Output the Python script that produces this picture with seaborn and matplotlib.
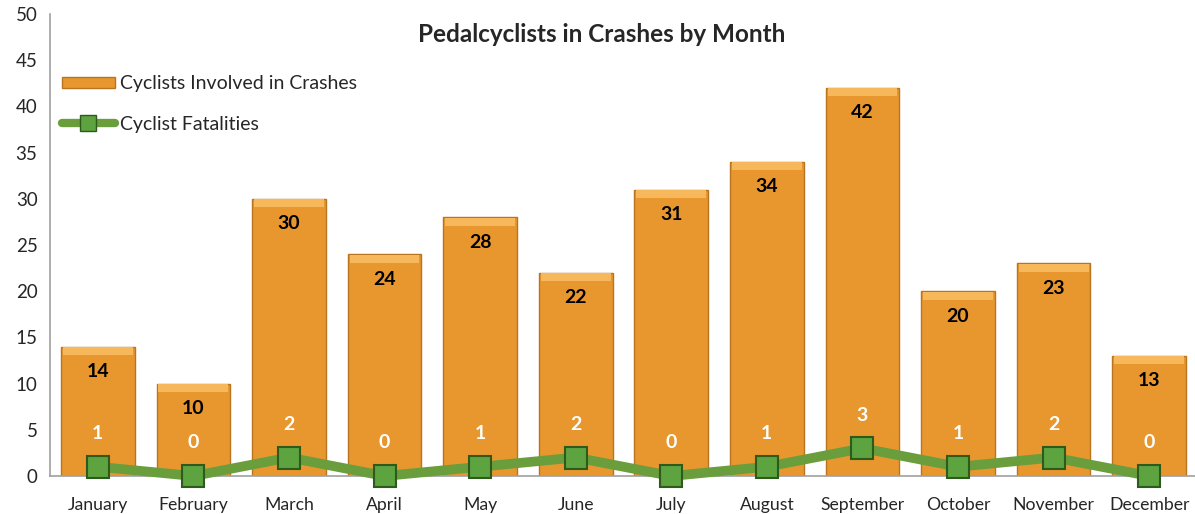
import matplotlib
matplotlib.use("Agg")
import matplotlib.pyplot as plt
import seaborn as sns
import numpy as np
import pandas as pd
from matplotlib.lines import Line2D
from matplotlib.patches import Patch

months = ["January", "February", "March", "April", "May", "June", "July",
          "August", "September", "October", "November", "December"]
crashes = [14, 10, 30, 24, 28, 22, 31, 34, 42, 20, 23, 13]
fatalities = [1, 0, 2, 0, 1, 2, 0, 1, 3, 1, 2, 0]
yticks = list(range(0, 55, 5))

sns.set_style("white")
plt.rcParams['font.family'] = ['Lato', 'DejaVu Sans']

bar_color = "#E8972E"
bar_edge = "#B87420"
line_color = "#6A9E3C"
mk_face = "#5DA33F"
mk_edge = "#2E5A1C"

fig = plt.figure(figsize=(11.95, 5.14), dpi=100)
ax = fig.add_axes([50/1195, 38/514, 1147/1195, 462/514])

df = pd.DataFrame({"Month": months, "Crashes": crashes, "Fatalities": fatalities})
sns.barplot(data=df, x="Month", y="Crashes", color=bar_color, width=0.77,
            saturation=1, edgecolor=bar_edge, linewidth=1.0, ax=ax, zorder=2)
# lighter top band for bevel look
for p in ax.patches:
    x0, w, h = p.get_x(), p.get_width(), p.get_height()
    ax.add_patch(plt.Rectangle((x0 + 0.02, h - 0.9), w - 0.04, 0.85,
                               facecolor="#F6B85A", edgecolor="none", zorder=2.5))

sns.pointplot(data=df, x="Month", y="Fatalities", color=line_color, marker="s",
              markersize=16, linewidth=7, markeredgecolor=mk_edge,
              markerfacecolor=mk_face, markeredgewidth=1.5, ax=ax, zorder=4)
for l in ax.lines:
    l.set_clip_on(False)

for i, v in enumerate(crashes):
    ax.text(i, v - 2.7, str(v), ha="center", va="center", fontsize=14,
            fontweight="bold", color="black", zorder=5)
for i, v in enumerate(fatalities):
    ax.text(i, v + 3.6, str(v), ha="center", va="center", fontsize=14,
            fontweight="bold", color="white", zorder=5)

ax.set_xlim(-0.5, 11.5)
ax.set_ylim(0, 50)
ax.set_yticks(yticks)
ax.set_yticklabels([str(t) for t in yticks], fontsize=13.5)
ax.set_xticks(range(12))
ax.set_xticklabels(months, fontsize=12.7)
ax.set_xticks(np.arange(0.5, 11.5, 1), minor=True)
ax.tick_params(axis="x", which="major", length=0, pad=15)
ax.tick_params(axis="x", which="minor", length=5, color="#A0A0A0", width=1, direction="out")
ax.tick_params(axis="y", length=5, color="#A0A0A0", width=1, direction="out", pad=4)
ax.set_xlabel("")
ax.set_ylabel("")
for s in ["top", "right"]:
    ax.spines[s].set_visible(False)
for s in ["left", "bottom"]:
    ax.spines[s].set_color("#A0A0A0")
    ax.spines[s].set_linewidth(1.2)
ax.grid(False)

fig.text(602/1195, 1 - 35/514, "Pedalcyclists in Crashes by Month", fontsize=17.5,
         fontweight="bold", ha="center", va="center")

handles = [Patch(facecolor=bar_color, edgecolor=bar_edge),
           Line2D([0], [0], color=line_color, lw=6, marker="s", markersize=12,
                  markerfacecolor=mk_face, markeredgecolor=mk_edge)]
ax.legend(handles, ["Cyclists Involved in Crashes", "Cyclist Fatalities"],
          loc="upper left", bbox_to_anchor=(0.005, 0.88), frameon=False, fontsize=14,
          handlelength=2.75, handletextpad=0.25, labelspacing=1.2, handleheight=0.5,
          borderaxespad=0, borderpad=0.3)

fig.savefig("out.png", dpi=100)
